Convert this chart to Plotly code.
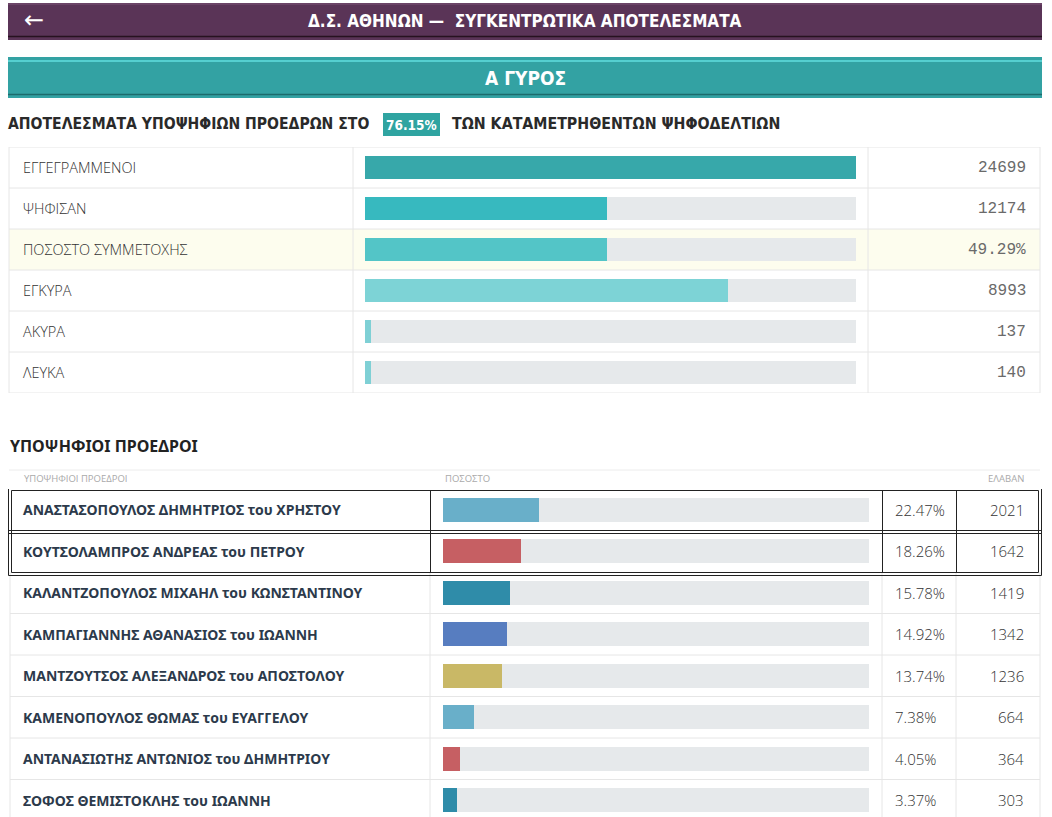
import plotly.graph_objects as go

W, H = 1052, 817

# ---------------- data ----------------
title_text = "Δ.Σ. ΑΘΗΝΩΝ —  ΣΥΓΚΕΝΤΡΩΤΙΚΑ ΑΠΟΤΕΛΕΣΜΑΤΑ"
round_text = "Α ΓΥΡΟΣ"
subtitle_left = "ΑΠΟΤΕΛΕΣΜΑΤΑ ΥΠΟΨΗΦΙΩΝ ΠΡΟΕΔΡΩΝ ΣΤΟ"
counted_pct = "76.15%"
subtitle_right = "ΤΩΝ ΚΑΤΑΜΕΤΡΗΘΕΝΤΩΝ ΨΗΦΟΔΕΛΤΙΩΝ"

summary_labels = ["ΕΓΓΕΓΡΑΜΜΕΝΟΙ", "ΨΗΦΙΣΑΝ", "ΠΟΣΟΣΤΟ ΣΥΜΜΕΤΟΧΗΣ", "ΕΓΚΥΡΑ", "ΑΚΥΡΑ", "ΛΕΥΚΑ"]
summary_values = [24699, 12174, 49.29, 8993, 137, 140]
summary_display = ["24699", "12174", "49.29%", "8993", "137", "140"]
summary_base = [24699, 24699, 100, 12174, 12174, 12174]
summary_colors = ["#37a8aa", "#37b9bf", "#53c5c7", "#7dd3d6", "#7fd0d5", "#7fd0d5"]

section_title = "ΥΠΟΨΗΦΙΟΙ ΠΡΟΕΔΡΟΙ"
col_headers = ["ΥΠΟΨΗΦΙΟΙ ΠΡΟΕΔΡΟΙ", "ΠΟΣΟΣΤΟ", "ΕΛΑΒΑΝ"]

candidates = [
    "ΑΝΑΣΤΑΣΟΠΟΥΛΟΣ ΔΗΜΗΤΡΙΟΣ του ΧΡΗΣΤΟΥ",
    "ΚΟΥΤΣΟΛΑΜΠΡΟΣ ΑΝΔΡΕΑΣ του ΠΕΤΡΟΥ",
    "ΚΑΛΑΝΤΖΟΠΟΥΛΟΣ ΜΙΧΑΗΛ του ΚΩΝΣΤΑΝΤΙΝΟΥ",
    "ΚΑΜΠΑΓΙΑΝΝΗΣ ΑΘΑΝΑΣΙΟΣ του ΙΩΑΝΝΗ",
    "ΜΑΝΤΖΟΥΤΣΟΣ ΑΛΕΞΑΝΔΡΟΣ του ΑΠΟΣΤΟΛΟΥ",
    "ΚΑΜΕΝΟΠΟΥΛΟΣ ΘΩΜΑΣ του ΕΥΑΓΓΕΛΟΥ",
    "ΑΝΤΑΝΑΣΙΩΤΗΣ ΑΝΤΩΝΙΟΣ του ΔΗΜΗΤΡΙΟΥ",
    "ΣΟΦΟΣ ΘΕΜΙΣΤΟΚΛΗΣ του ΙΩΑΝΝΗ",
]
cand_pct = [22.47, 18.26, 15.78, 14.92, 13.74, 7.38, 4.05, 3.37]
cand_votes = [2021, 1642, 1419, 1342, 1236, 664, 364, 303]
cand_colors = ["#69afc9", "#c65f63", "#2f8ca9", "#577dc0", "#c9b866",
               "#69afc9", "#c65f63", "#2f8ca9"]
highlighted = 2  # first two rows boxed

# ---------------- helpers ----------------
def px(x):
    return x / W

def py(y):
    return 1 - y / H

TRACK = "#e6e9eb"
LINE = "#e6e6e6"
NARROW = "Liberation Sans Narrow, DejaVu Sans Condensed, sans-serif"
SANS = "Open Sans, Noto Sans, sans-serif"
MONO = "Liberation Mono, DejaVu Sans Mono, monospace"

share = [v / b for v, b in zip(summary_values, summary_base)]

fig = go.Figure()

# summary bars (axes x / y)
fig.add_trace(go.Bar(x=[1] * len(summary_labels), y=summary_labels, orientation="h",
                     marker=dict(color=TRACK, line=dict(width=0)), width=0.585,
                     xaxis="x", yaxis="y", hoverinfo="skip"))
fig.add_trace(go.Bar(x=share, y=summary_labels, orientation="h",
                     marker=dict(color=summary_colors, line=dict(width=0)), width=0.585,
                     xaxis="x", yaxis="y", hoverinfo="skip"))

# candidate bars (axes x2 / y2)
fig.add_trace(go.Bar(x=[100] * len(candidates), y=candidates, orientation="h",
                     marker=dict(color=TRACK, line=dict(width=0)), width=0.578,
                     xaxis="x2", yaxis="y2", hoverinfo="skip"))
fig.add_trace(go.Bar(x=cand_pct, y=candidates, orientation="h",
                     marker=dict(color=cand_colors, line=dict(width=0)), width=0.578,
                     xaxis="x2", yaxis="y2", hoverinfo="skip"))

shapes = []
ann = []

def rect(x0, y0, x1, y1, fill, yref="paper", line=None):
    d = dict(type="rect", xref="paper", yref=yref, x0=x0, x1=x1, y0=y0, y1=y1,
             fillcolor=fill, line=line or dict(width=0), layer="below")
    shapes.append(d)

def hline(x0, x1, y, color, width=1, yref="paper"):
    shapes.append(dict(type="line", xref="paper", yref=yref, x0=x0, x1=x1, y0=y, y1=y,
                       line=dict(color=color, width=width)))

def vline(x, y0, y1, color, width=1, yref="paper"):
    shapes.append(dict(type="line", xref="paper", yref=yref, x0=x, x1=x, y0=y0, y1=y1,
                       line=dict(color=color, width=width)))

def text(t, x, y, font, xanchor="center", yref="paper"):
    ann.append(dict(text=t, x=x, y=y, xref="paper", yref=yref, xanchor=xanchor,
                    yanchor="middle", showarrow=False, font=font))

# header band
rect(px(8), py(40), px(1042), py(3), "#5a3457")
hline(px(8), px(1042), py(4), "#7c5478", 1)
hline(px(8), px(1042), py(36.5), "#26121f", 1.5)
text("←", px(34), py(20), dict(family="DejaVu Sans", size=24, color="white"))
text(title_text, px(525), py(21), dict(family=NARROW, size=17, color="white", weight=700))

# round band
rect(px(8), py(98), px(1042), py(57), "#33a2a3")
hline(px(8), px(1042), py(61), "#62dedf", 1.5)
hline(px(8), px(1042), py(94.5), "#1d6b6c", 1.5)
text(round_text, px(525), py(78), dict(family=NARROW, size=19, color="white", weight=700))

# subtitle
text(subtitle_left, px(6), py(124), dict(family=NARROW, size=15.6, color="#2a2a2a", weight=700),
     xanchor="left")
rect(px(383), py(136), px(440), py(113), "#2fa4a1")
text(counted_pct, px(411.5), py(124.5), dict(family=NARROW, size=13.5, color="white", weight=700))
text(subtitle_right, px(450), py(124), dict(family=NARROW, size=15.8, color="#2a2a2a", weight=700),
     xanchor="left")

# summary table grid
n_s = len(summary_labels)
rect(px(9), 1.5, px(1040), 2.5, "#fdfdee", yref="y")
for i in range(n_s + 1):
    hline(px(9), px(1040), i - 0.5, LINE, 1, yref="y")
for xx in (9, 353, 868, 1040):
    vline(px(xx), -0.5, n_s - 0.5, LINE, 1, yref="y")
for lab, disp in zip(summary_labels, summary_display):
    text(lab, px(21), lab, dict(family=SANS, size=14.5, color="#333333", weight=300),
         xanchor="left", yref="y")
    text(disp, px(1028), lab, dict(family=MONO, size=16, color="#6a6a6a"),
         xanchor="right", yref="y")

# candidates section
text(section_title, px(8), py(446),
     dict(family="Noto Sans, sans-serif", size=16, color="#222222", weight=700), xanchor="left")
hline(px(9), px(1040), py(470), "#ececec", 1)
hfont = dict(family=SANS, size=9.5, color="#aaaaaa")
text(col_headers[0], px(22), py(478), hfont, xanchor="left")
text(col_headers[1], px(443), py(478), hfont, xanchor="left")
text(col_headers[2], px(1026), py(478), hfont, xanchor="right")

n_c = len(candidates)
row_px = 41.5
c_top = -0.5
c_bot = -0.5 + (H - 489) / row_px
for i in range(highlighted, n_c):
    hline(px(10), px(1040), i + 0.5, LINE, 1, yref="y2")
for xx in (10, 430, 882, 956, 1040):
    vline(px(xx), highlighted - 0.5, c_bot, LINE, 1, yref="y2")

# boxed rows (double border)
dk = "#222222"
u = 1 / row_px
top_v = -0.5
bot_v = highlighted - 0.5
shapes.append(dict(type="rect", xref="paper", yref="y2", x0=px(8.5), x1=px(1041.5),
                   y0=top_v - 1.5 * u, y1=bot_v + 3.5 * u, line=dict(color=dk, width=1)))
shapes.append(dict(type="rect", xref="paper", yref="y2", x0=px(11.5), x1=px(1038.5),
                   y0=top_v + 1.5 * u, y1=bot_v + 0.5 * u, line=dict(color=dk, width=1)))
for i in range(highlighted - 1):
    hline(px(8.5), px(1041.5), i + 0.5, dk, 1, yref="y2")
    hline(px(8.5), px(1041.5), i + 0.5 + 3 * u, dk, 1, yref="y2")
for xx in (430.5, 882.5, 956.5):
    vline(px(xx), top_v + 1.5 * u, bot_v + 0.5 * u, dk, 1, yref="y2")

for name, p, v in zip(candidates, cand_pct, cand_votes):
    text(name, px(21), name,
         dict(family="Noto Sans, sans-serif", size=14, color="#2c3a4b", weight=700),
         xanchor="left", yref="y2")
    text(f"{p:.2f}%", px(893), name, dict(family=SANS, size=15, color="#333333", weight=300),
         xanchor="left", yref="y2")
    text(str(v), px(1026), name, dict(family=SANS, size=15, color="#333333", weight=300),
         xanchor="right", yref="y2")

fig.update_layout(
    width=W, height=H, margin=dict(l=0, r=0, t=0, b=0),
    paper_bgcolor="white", plot_bgcolor="rgba(0,0,0,0)",
    barmode="overlay", showlegend=False, bargap=0,
    xaxis=dict(domain=[px(365), px(856)], range=[0, 1], visible=False, fixedrange=True),
    yaxis=dict(domain=[py(393), py(147)], type="category", categoryorder="array",
               categoryarray=summary_labels, range=[n_s - 0.5, -0.5], visible=False,
               fixedrange=True),
    xaxis2=dict(domain=[px(443), px(869)], range=[0, 100], visible=False, fixedrange=True,
                anchor="y2"),
    yaxis2=dict(domain=[0, py(489)], type="category", categoryorder="array",
                categoryarray=candidates, range=[c_bot, c_top], visible=False,
                fixedrange=True, anchor="x2"),
    shapes=shapes, annotations=ann,
)

fig.write_html("out.html", config=dict(displayModeBar=False),
               post_script="document.body.style.margin='0';document.body.style.overflow='hidden';")
